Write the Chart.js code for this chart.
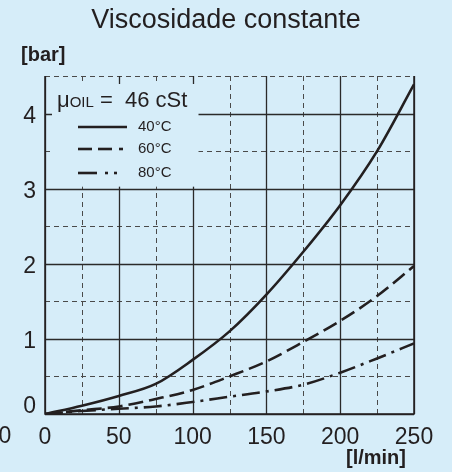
<!DOCTYPE html>
<html>
<head>
<meta charset="utf-8">
<script src="https://cdn.jsdelivr.net/npm/chart.js@4/dist/chart.umd.min.js"></script>
<style>
  html, body { margin: 0; padding: 0; background: #d6edf9; }
  #wrap { width: 452px; height: 472px; position: relative; }
</style>
</head>
<body>
<div id="wrap"><canvas id="chart"></canvas></div>
<script>
// flow [l/min] and pressure drop [bar]
const flow = [0, 25, 50, 75, 100, 125, 150, 175, 200, 225, 250];
const dp40 = [0, 0.11, 0.24, 0.40, 0.72, 1.1, 1.59, 2.16, 2.78, 3.5, 4.39];
const dp60 = [0, 0.05, 0.10, 0.20, 0.32, 0.5, 0.70, 0.96, 1.24, 1.57, 1.97];
const dp80 = [0, 0.04, 0.07, 0.10, 0.16, 0.23, 0.30, 0.39, 0.55, 0.74, 0.94];
const seriesLabels = ['40°C', '60°C', '80°C'];
const xTicks = [0, 50, 100, 150, 200, 250];
const yTicks = [0, 1, 2, 3, 4];

const INK = '#231f20';
const BG = '#d6edf9';
const FONT = '"Liberation Sans", Arial, sans-serif';

const toPoints = ys => flow.map((x, i) => ({ x: x, y: ys[i] }));

// grid (solid every 50 / 1 bar, dashed in between), frame, legend patch and texts
const decor = {
  id: 'decor',
  beforeDatasetsDraw(chart) {
    const { ctx, chartArea: a, scales: { x, y } } = chart;
    ctx.save();
    // dashed minor lines
    ctx.strokeStyle = '#4a4a4a';
    ctx.lineWidth = 1;
    ctx.setLineDash([5, 4]);
    for (let v = 25; v < 250; v += 50) {
      const px = Math.round(x.getPixelForValue(v)) + 0.5;
      ctx.beginPath(); ctx.moveTo(px, a.top); ctx.lineTo(px, a.bottom); ctx.stroke();
    }
    for (let v = 0.5; v <= 4.5; v += 1) {
      const py = Math.round(y.getPixelForValue(v)) + 0.5;
      ctx.beginPath(); ctx.moveTo(a.left, py); ctx.lineTo(a.right, py); ctx.stroke();
    }
    // solid major lines
    ctx.setLineDash([]);
    ctx.strokeStyle = '#2a2a2a';
    ctx.lineWidth = 1.3;
    xTicks.forEach(v => {
      const px = Math.round(x.getPixelForValue(v)) + 0.5;
      ctx.beginPath(); ctx.moveTo(px, a.top); ctx.lineTo(px, a.bottom); ctx.stroke();
    });
    yTicks.forEach(v => {
      const py = Math.round(y.getPixelForValue(v)) + 0.5;
      ctx.beginPath(); ctx.moveTo(a.left, py); ctx.lineTo(a.right, py); ctx.stroke();
    });

    // legend patch hides the grid behind it
    const bx0 = a.left + 7, by0 = a.top + 8;
    const bx1 = x.getPixelForValue(104), by1 = y.getPixelForValue(3) - 2;
    ctx.fillStyle = BG;
    ctx.fillRect(bx0, by0, bx1 - bx0, by1 - by0);

    // legend title: μOIL = 46 cSt
    ctx.fillStyle = INK;
    ctx.textBaseline = 'alphabetic';
    ctx.textAlign = 'left';
    let tx = a.left + 12;
    const ty = a.top + 31;
    ctx.font = '22px ' + FONT;
    ctx.fillText('μ', tx, ty);
    tx += ctx.measureText('μ').width;
    ctx.font = '15px ' + FONT;
    ctx.fillText('OIL', tx, ty);
    tx += ctx.measureText('OIL').width;
    ctx.font = '22px ' + FONT;
    ctx.fillText(' =  46 cSt', tx, ty);

    // legend samples
    const lx0 = a.left + 33, lx1 = a.left + 82;
    const rows = [a.top + 51, a.top + 73, a.top + 97];
    ctx.strokeStyle = INK;
    ctx.lineWidth = 2.6;
    ctx.lineCap = 'butt';
    const segs = [
      [[0, 49]],
      [[0, 14], [20, 34], [41, 45]],
      [[0, 19], [27, 30], [36, 39]]
    ];
    rows.forEach((ry, i) => {
      segs[i].forEach(s => {
        ctx.beginPath();
        ctx.moveTo(lx0 + s[0], ry);
        ctx.lineTo(lx0 + s[1], ry);
        ctx.stroke();
      });
      ctx.font = '15px ' + FONT;
      ctx.textBaseline = 'middle';
      ctx.fillText(seriesLabels[i], lx1 + 11, ry);
    });
    ctx.restore();
  },
  afterDraw(chart) {
    const { ctx, chartArea: a, scales: { y } } = chart;
    ctx.save();
    ctx.fillStyle = INK;
    ctx.textBaseline = 'alphabetic';
    // title
    ctx.textAlign = 'center';
    ctx.font = '27px ' + FONT;
    ctx.fillText('Viscosidade constante', chart.width / 2, 28);
    // axis units
    ctx.font = 'bold 20px ' + FONT;
    ctx.textAlign = 'left';
    ctx.fillText('[bar]', 21, 61);
    ctx.textAlign = 'right';
    ctx.fillText('[l/min]', a.right - 8, 464);
    // y zero label sits a little higher, plus the stray 0 left of the x axis
    ctx.font = '23px ' + FONT;
    ctx.textAlign = 'right';
    ctx.textBaseline = 'middle';
    ctx.fillText('0', a.left - 9, y.getPixelForValue(0) - 7);
    ctx.textAlign = 'center';
    ctx.textBaseline = 'alphabetic';
    ctx.fillText('0', a.left - 40, a.bottom + 29);
    // frame
    ctx.strokeStyle = INK;
    ctx.lineWidth = 1.5;
    ctx.beginPath();
    ctx.moveTo(a.left, a.top);
    ctx.lineTo(a.left, a.bottom);
    ctx.lineTo(a.right, a.bottom);
    ctx.lineTo(a.right, a.top);
    ctx.stroke();
    ctx.restore();
  }
};

const lineSet = (label, ys, dash) => ({
  label: label,
  data: toPoints(ys),
  borderColor: INK,
  backgroundColor: 'transparent',
  borderWidth: 2.6,
  borderDash: dash,
  pointRadius: 0,
  cubicInterpolationMode: 'monotone'
});

new Chart(document.getElementById('chart'), {
  type: 'line',
  data: {
    datasets: [
      lineSet(seriesLabels[0], dp40, []),
      lineSet(seriesLabels[1], dp60, [15, 6]),
      lineSet(seriesLabels[2], dp80, [18, 6, 3, 6])
    ]
  },
  options: {
    responsive: true,
    maintainAspectRatio: false,
    animation: false,
    layout: { padding: { top: 76, right: 38, left: 0, bottom: 0 } },
    plugins: {
      legend: { display: false },
      tooltip: { enabled: false }
    },
    scales: {
      x: {
        type: 'linear',
        min: 0,
        max: 250,
        afterFit(scale) { scale.height = 58; },
        afterBuildTicks(scale) { scale.ticks = xTicks.map(v => ({ value: v })); },
        grid: { display: false, drawTicks: false },
        border: { display: false },
        ticks: {
          color: INK,
          padding: 10,
          maxRotation: 0,
          font: { family: FONT, size: 23 }
        }
      },
      y: {
        type: 'linear',
        min: 0,
        max: 4.5,
        afterFit(scale) { scale.width = 45; },
        afterBuildTicks(scale) { scale.ticks = yTicks.map(v => ({ value: v })); },
        grid: { display: false, drawTicks: false },
        border: { display: false },
        ticks: {
          color: INK,
          padding: 9,
          labelOffset: 3,
          callback: v => (v === 0 ? '' : v),
          font: { family: FONT, size: 23 }
        }
      }
    }
  },
  plugins: [decor]
});
</script>
</body>
</html>
